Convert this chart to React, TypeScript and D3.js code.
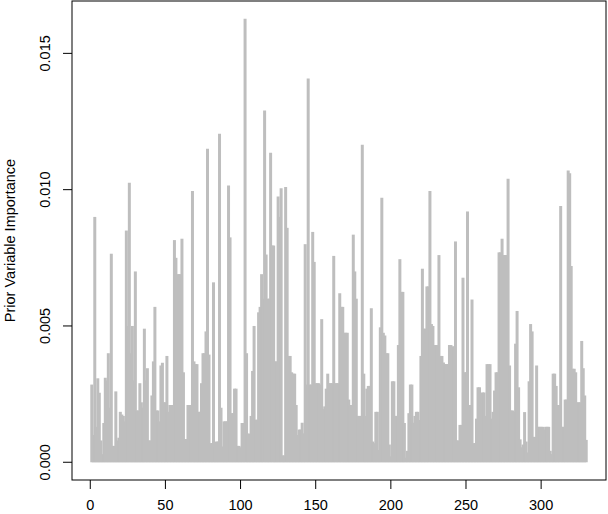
import React from 'react';
import * as d3 from 'd3';

// prior importance per variable (units of 1e-3)
const importance = [
  2.85, 1.0, 9.0, 1.3, 3.08, 2.55, 0.8, 0.3, 1.44, 3.1,
  3.0, 4.0, 2.0, 7.65, 0.6, 0.6, 2.6, 0.8, 0.9, 1.85,
  1.75, 1.7, 1.5, 8.5, 5.0, 10.25, 4.0, 5.0, 3.0, 7.0,
  1.9, 1.9, 2.9, 2.2, 2.0, 4.9, 3.0, 3.45, 0.8, 0.8,
  2.45, 3.7, 5.7, 1.9, 1.9, 1.5, 3.55, 3.65, 2.2, 2.2,
  3.9, 1.85, 2.1, 2.1, 2.1, 8.15, 7.5, 6.9, 6.9, 6.9,
  8.2, 3.3, 0.85, 0.85, 2.1, 2.1, 2.1, 9.95, 3.7, 3.6,
  3.6, 1.85, 1.85, 2.9, 4.0, 4.0, 4.8, 11.5, 3.95, 0.7,
  0.7, 6.6, 0.58, 0.76, 0.76, 12.05, 2.0, 0.58, 1.5, 1.5,
  1.5, 10.15, 8.25, 1.8, 1.8, 2.7, 2.7, 0.6, 0.6, 0.55,
  1.44, 1.44, 16.27, 4.0, 1.05, 1.05, 1.7, 3.35, 5.0, 1.56,
  1.56, 5.5, 5.7, 6.9, 6.0, 12.9, 7.62, 6.0, 6.0, 11.35,
  7.95, 7.95, 3.7, 3.7, 9.75, 9.0, 10.05, 0.25, 0.25, 10.1,
  8.6, 3.9, 3.9, 3.3, 3.25, 3.25, 2.1, 1.0, 1.2, 1.2,
  1.45, 1.06, 8.0, 2.85, 14.08, 2.85, 2.85, 8.45, 7.35, 2.9,
  2.9, 2.9, 2.85, 5.25, 1.95, 2.05, 2.7, 3.25, 2.9, 2.9,
  2.9, 7.57, 2.9, 2.9, 2.9, 6.2, 5.7, 5.7, 4.75, 4.75,
  4.75, 2.3, 2.1, 2.1, 8.35, 7.0, 6.0, 1.7, 1.7, 1.7,
  11.65, 3.25, 1.7, 2.7, 2.8, 2.8, 5.65, 0.76, 0.7, 1.85,
  1.85, 0.45, 4.95, 9.7, 4.75, 4.65, 4.0, 4.0, 0.65, 0.22,
  2.97, 2.97, 1.7, 1.7, 4.3, 7.45, 6.25, 6.25, 1.44, 0.17,
  0.42, 1.8, 2.85, 2.85, 1.45, 1.7, 1.85, 1.85, 1.55, 3.9,
  7.1, 4.9, 4.9, 6.45, 6.45, 9.95, 5.07, 5.0, 4.3, 4.3,
  4.3, 7.6, 3.9, 3.9, 3.66, 3.6, 3.6, 3.6, 4.3, 4.3,
  4.25, 4.25, 8.1, 0.8, 0.8, 1.37, 1.37, 6.77, 3.3, 3.3,
  9.2, 2.1, 2.1, 5.97, 0.7, 0.7, 1.6, 2.75, 2.75, 2.1,
  2.56, 2.56, 1.7, 3.6, 3.6, 3.6, 1.6, 1.85, 2.63, 3.3,
  3.3, 7.7, 7.7, 8.2, 7.6, 7.6, 7.6, 10.4, 3.55, 1.9,
  1.9, 1.85, 4.35, 5.55, 2.75, 0.84, 0.55, 0.65, 1.84, 0.76,
  0.36, 2.97, 5.07, 4.8, 0.93, 0.93, 3.55, 1.3, 1.3, 1.3,
  1.3, 1.2, 1.3, 1.3, 1.3, 0.42, 0.3, 3.25, 3.25, 2.8,
  2.1, 2.1, 9.4, 1.3, 1.3, 2.3, 2.3, 10.7, 10.6, 7.2,
  3.43, 3.43, 3.3, 2.2, 2.2, 2.2, 4.45, 3.45, 2.45, 0.82,
].map(v => v / 1000);

const xTicks = [0, 50, 100, 150, 200, 250, 300];
const yTicks = [0, 0.005, 0.01, 0.015];
const yTickLabels = ['0.000', '0.005', '0.010', '0.015'];
const yLabel = 'Prior Variable Importance';

const W = 608;
const H = 514;
const box = { left: 72, right: 606, top: 1, bottom: 480 };
const font = '"Liberation Sans", Arial, Helvetica, sans-serif';

export default function App() {
  const n = importance.length;
  const maxV = d3.max(importance) as number;
  // R style 4% padding on both axes
  const padX = 0.04 * (n - 1);
  const x = d3.scaleLinear().domain([1 - padX, n + padX]).range([box.left, box.right]);
  const y = d3.scaleLinear().domain([-0.04 * maxV, maxV * 1.04]).range([box.bottom, box.top]);

  return (
    <div style={{ position: 'fixed', left: 0, top: 0, width: W, height: H, background: '#fff' }}>
      <svg width={W} height={H} style={{ display: 'block', fontFamily: font }}>
        <g>
          {importance.map((v, i) => (
            <line
              key={i}
              x1={x(i + 1)}
              x2={x(i + 1)}
              y1={y(0)}
              y2={y(v)}
              stroke="#BEBEBE"
              strokeWidth={3}
            />
          ))}
        </g>

        <rect
          x={box.left}
          y={box.top}
          width={box.right - box.left}
          height={box.bottom - box.top}
          fill="none"
          stroke="#000"
          strokeWidth={1}
        />

        {/* x axis */}
        <g>
          {xTicks.map(t => (
            <g key={t} transform={`translate(${x(t)},0)`}>
              <line y1={box.bottom} y2={box.bottom + 9} stroke="#000" />
              <text y={510} textAnchor="middle" fontSize={14.5}>{t}</text>
            </g>
          ))}
        </g>

        {/* y axis */}
        <g>
          {yTicks.map((t, i) => (
            <g key={t} transform={`translate(0,${y(t)})`}>
              <line x1={box.left - 9} x2={box.left} stroke="#000" />
              <text transform="translate(50,0) rotate(-90)" textAnchor="middle" fontSize={14.5}>
                {yTickLabels[i]}
              </text>
            </g>
          ))}
        </g>

        <text
          transform={`translate(14.5,${(box.top + box.bottom) / 2}) rotate(-90)`}
          textAnchor="middle"
          fontSize={14.5}
        >
          {yLabel}
        </text>
      </svg>
    </div>
  );
}
